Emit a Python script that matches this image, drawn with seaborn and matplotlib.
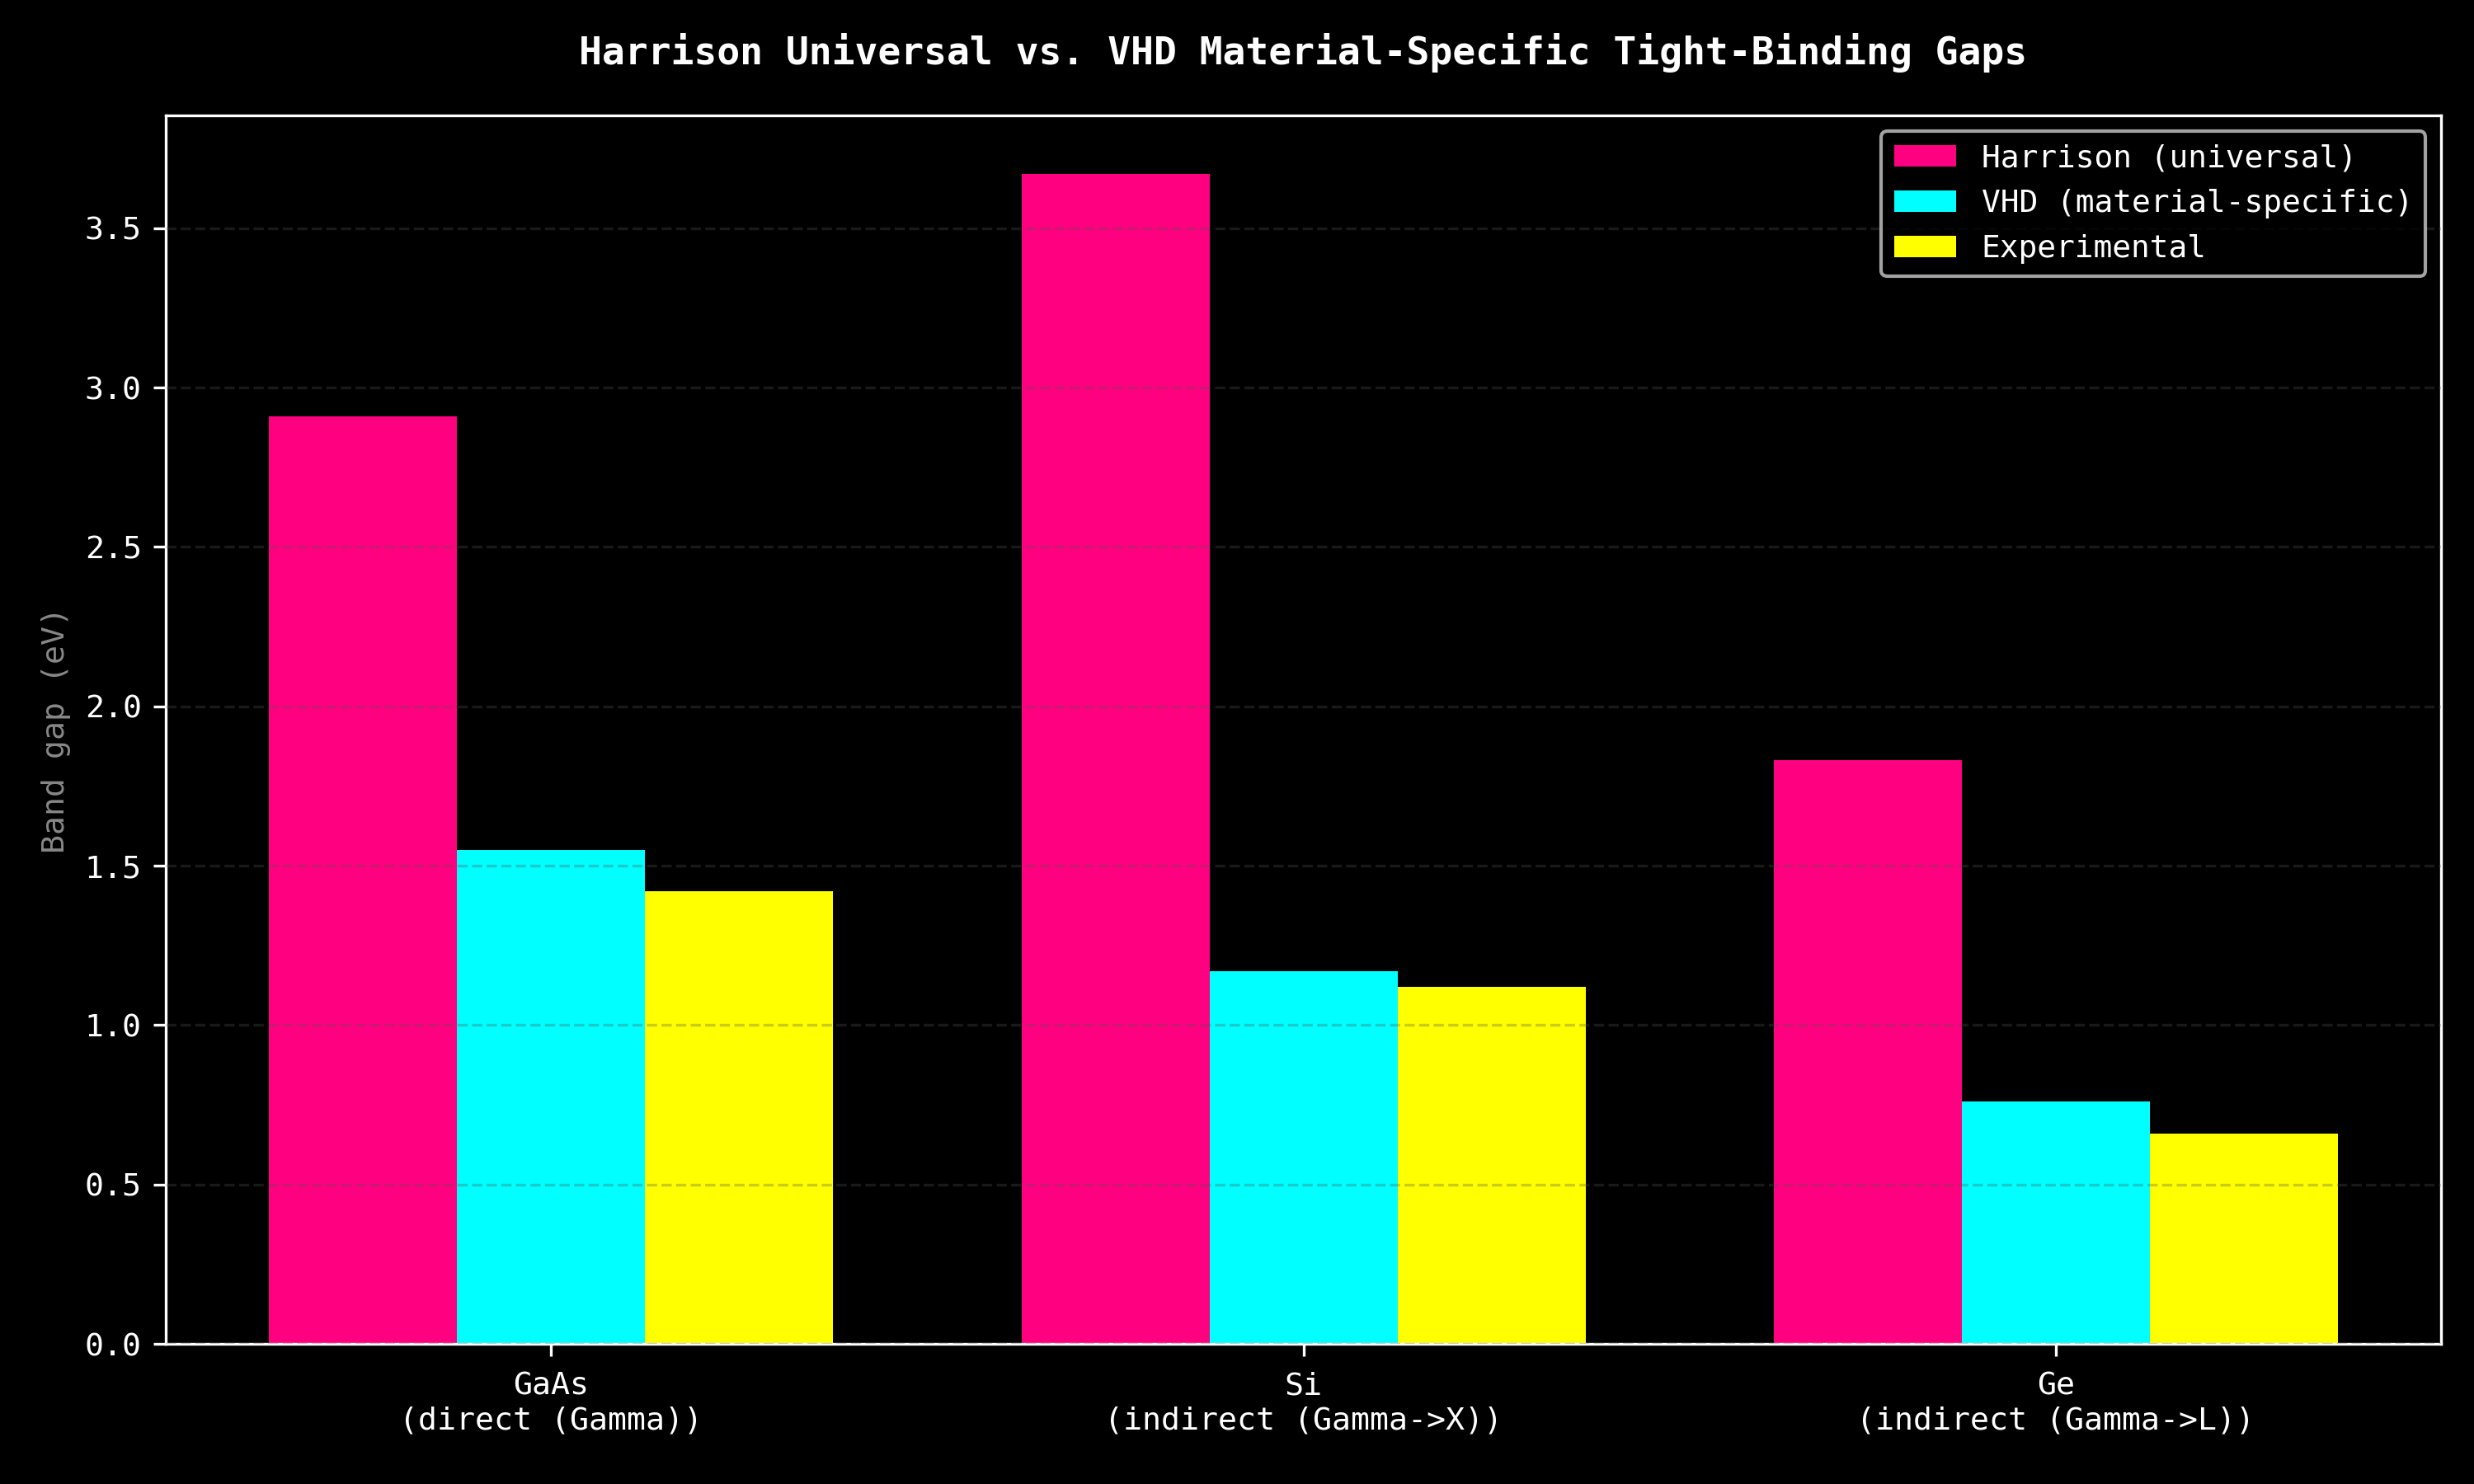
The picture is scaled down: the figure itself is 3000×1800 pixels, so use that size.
import matplotlib
matplotlib.use("Agg")
import matplotlib.pyplot as plt
import seaborn as sns
import pandas as pd

materials = ["GaAs", "Si", "Ge"]
transitions = ["direct (Gamma)", "indirect (Gamma->X)", "indirect (Gamma->L)"]
series_names = ["Harrison (universal)", "VHD (material-specific)", "Experimental"]
harrison = [2.91, 3.67, 1.83]
vhd = [1.55, 1.17, 0.76]
experimental = [1.42, 1.12, 0.66]
colors = ["#FF0080", "#00FFFF", "#FFFF00"]

plt.style.use("dark_background")
plt.rcParams["font.family"] = ["DejaVu Sans Mono", "DejaVu Sans"]

labels = [f"{m}\n({t})" for m, t in zip(materials, transitions)]
rows = []
for name, vals in zip(series_names, [harrison, vhd, experimental]):
    for lab, v in zip(labels, vals):
        rows.append({"material": lab, "series": name, "gap": v})
df = pd.DataFrame(rows)

fig, ax = plt.subplots(figsize=(10, 6), dpi=300)
fig.patch.set_facecolor("black")
ax.set_facecolor("black")

sns.barplot(data=df, x="material", y="gap", hue="series", order=labels,
            hue_order=series_names, palette=colors, width=0.75, gap=0,
            saturation=1, ax=ax, errorbar=None, edgecolor="none", linewidth=0)

ymax = max(harrison + vhd + experimental)
ax.set_xlim(-0.5125, 2.5125)
ax.set_ylim(0, ymax * 1.05)
ax.set_xlabel("")
ax.set_ylabel("Band gap (eV)", color="#888888", fontsize=9.2)
ax.tick_params(axis="both", labelsize=9.2, colors="white")
ax.tick_params(axis="x", pad=4.5)
ax.set_title("Harrison Universal vs. VHD Material-Specific Tight-Binding Gaps",
             fontsize=11.15, fontweight="bold", color="white", pad=15)
ax.set_axisbelow(False)
ax.grid(axis="y", linestyle="--", color="#555555", alpha=0.3, linewidth=0.8, zorder=1.5)
ax.grid(axis="x", visible=False)
for sp in ax.spines.values():
    sp.set_color("white")
    sp.set_linewidth(0.8)

leg = ax.legend(loc="upper right", fontsize=9.1, title=None)
leg.get_frame().set_facecolor("black")

fig.subplots_adjust(left=0.067, right=0.9867, top=0.9222, bottom=0.0944)
fig.savefig("out.png", dpi=300, facecolor="black")
